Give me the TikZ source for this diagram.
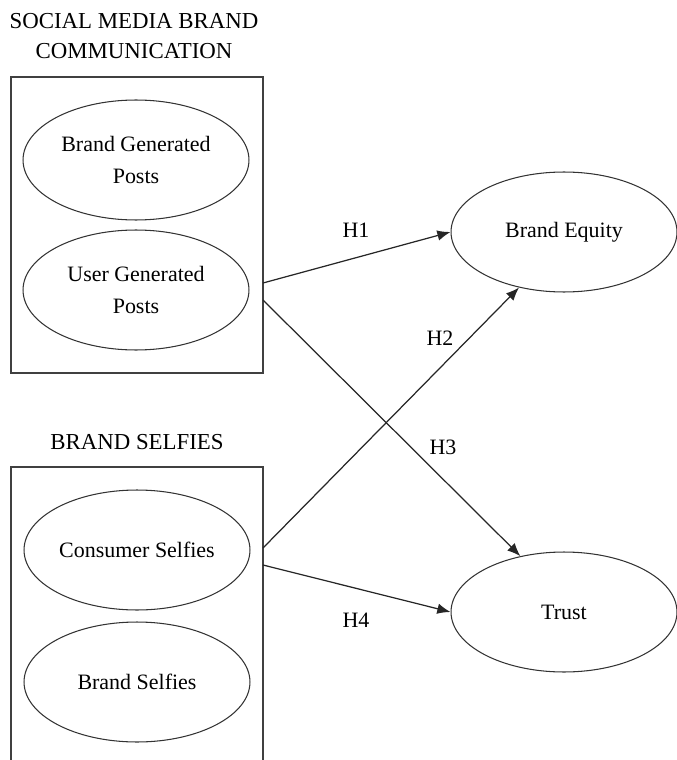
\documentclass[tikz,border=0pt]{standalone}
\usepackage{fontspec}
\setmainfont{Liberation Serif}
\usetikzlibrary{arrows.meta,shapes.geometric}

\begin{document}
\begin{tikzpicture}[x=0.02cm, y=-0.02cm,
    construct/.style={draw=black!80, line width=0.6pt, ellipse,
      minimum width=4.52cm, minimum height=2.4cm, inner sep=0pt,
      align=center, font=\fontsize{12.5}{18}\selectfont},
    heading/.style={align=center, font=\fontsize{13}{17.5}\selectfont},
    hyp/.style={font=\fontsize{12.5}{15}\selectfont},
    path/.style={draw=black!85, line width=0.7pt,
      -{Latex[length=7.5pt,width=6pt]}},
    frame/.style={draw=black!75, line width=0.6pt}]
  \useasboundingbox (0,0) rectangle (676,760);

  %% Headings of the two blocks
  \node[heading] (smbc) at (134,36) {SOCIAL MEDIA BRAND\\COMMUNICATION};
  \node[heading] (bshead) at (137,442) {BRAND SELFIES};

  %% Frames round the blocks
  \draw[frame] (11,77) rectangle (263,373);
  \draw[frame] (11,775) -- (11,467) -- (263,467) -- (263,775);

  %% Constructs on the left
  \node[construct] (bgp) at (136,160) {Brand Generated\\Posts};
  \node[construct] (ugp) at (136,290) {User Generated\\Posts};
  \node[construct] (cons) at (137,550) {Consumer Selfies};
  \node[construct] (bself) at (137,682) {Brand Selfies};

  %% Outcomes on the right
  \node[construct] (equity) at (564,232) {Brand Equity};
  \node[construct] (trust) at (564,612) {Trust};

  %% Start points on the frames
  \coordinate (ugpa) at (263,283);
  \coordinate (ugpb) at (263,300);
  \coordinate (consa) at (263,548);
  \coordinate (consb) at (263,565);

  %% Hypothesised paths
  \draw[path] (ugpa) -- (equity.west);
  \draw[path] (ugpb) -- (trust.128);
  \draw[path] (consa) -- (equity.231);
  \draw[path] (consb) -- (trust.west);

  %% Path labels
  \node[hyp] (h1) at (356,230) {H1};
  \node[hyp] (h2) at (440,338) {H2};
  \node[hyp] (h3) at (443,447) {H3};
  \node[hyp] (h4) at (356,620) {H4};
\end{tikzpicture}
\end{document}
